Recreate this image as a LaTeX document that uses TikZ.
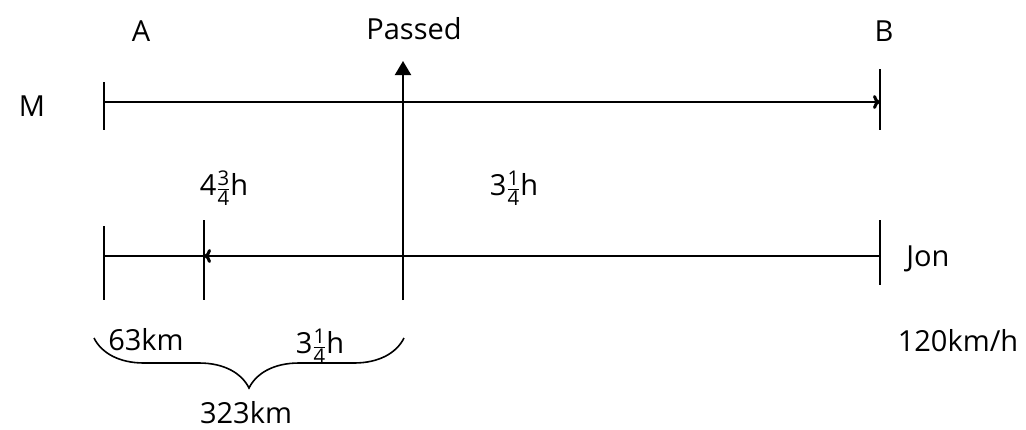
\documentclass[tikz,border=0pt]{standalone}
\usepackage{amsmath}
\usepackage{fontspec}
\setmainfont{Open Sans}
\usetikzlibrary{arrows.meta,decorations.pathreplacing}
\newcommand{\mixfr}[3]{#1$\frac{\text{#2}}{\text{#3}}$h}
\begin{document}
\begin{tikzpicture}[x=1pt,y=-1pt,
  line/.style={line width=2pt},
  lbl/.style={font=\fontsize{29}{34}\selectfont,inner sep=0pt},
  lbls/.style={font=\fontsize{29}{34}\selectfont,inner sep=0pt}]
\useasboundingbox (0,0) rectangle (1026,429);
% top line
\coordinate (tA) at (104,102);
\coordinate (tB) at (880,102);
\coordinate (tAu) at (104,82);
\coordinate (tAd) at (104,130);
\coordinate (tBu) at (880,69);
\coordinate (tBd) at (880,130);
\draw[line] (tAu) -- (tAd);
\draw[line] (tBu) -- (tBd);
\draw[line,-{To[length=7pt,width=14pt,line width=3pt]}] (tA) -- (tB);
% bottom line
\coordinate (bA) at (104,256);
\coordinate (bC) at (204,256);
\coordinate (bB) at (880,256);
\coordinate (bAu) at (104,226);
\coordinate (bAd) at (104,300);
\coordinate (bCu) at (204,220);
\coordinate (bCd) at (204,300);
\coordinate (bBu) at (880,220);
\coordinate (bBd) at (880,285);
\draw[line] (bAu) -- (bAd);
\draw[line] (bCu) -- (bCd);
\draw[line] (bBu) -- (bBd);
\draw[line] (bA) -- (bC);
\draw[line,-{To[length=7pt,width=14pt,line width=3pt]}] (bB) -- (bC);
% passed arrow
\coordinate (pBot) at (403,300);
\coordinate (pTop) at (403,61);
\draw[line,-{Triangle[length=14pt,width=16pt]}] (pBot) -- (pTop);
% labels
\node[lbl] (A) at (141,31) {A};
\node[lbl] (P) at (414,29) {Passed};
\node[lbl] (B) at (884,31) {B};
\node[lbl] (M) at (32,106) {M};
\node[lbls] (f1) at (224,188) {\mixfr{4}{3}{4}};
\node[lbls] (f2) at (514,188) {\mixfr{3}{1}{4}};
\node[lbl] (J) at (928,259) {Jon};
\node[lbl] (d1) at (146,340) {63km};
\node[lbls] (f3) at (320,346) {\mixfr{3}{1}{4}};
\node[lbl] (v) at (958,341) {120km/h};
\node[lbl] (tot) at (246,413) {323km};
% brace
\coordinate (brL) at (94,338);
\coordinate (brR) at (404,338);
\draw[line width=1.6pt,decorate,decoration={brace,amplitude=50pt,aspect=0.5}] (brR) -- (brL);
\end{tikzpicture}
\end{document}
